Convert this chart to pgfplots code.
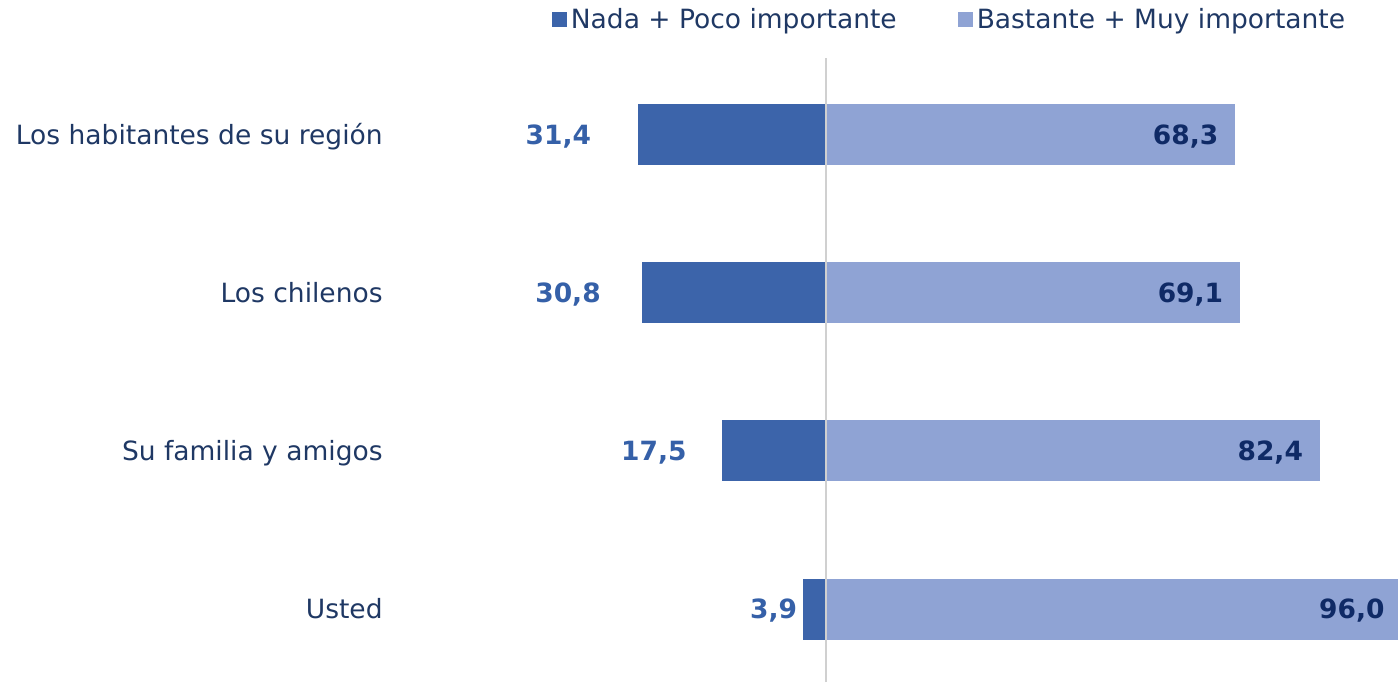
\documentclass[border=0pt]{standalone}
\usepackage{pgfplots}
\usepackage{pgfplotstable}
\pgfplotsset{compat=1.18}
\usepackage{fontspec}
\setmainfont{DejaVu Sans}
\definecolor{darkbar}{HTML}{3C64AA}
\definecolor{lightbar}{HTML}{8FA3D4}
\definecolor{cattext}{HTML}{1F3864}
\definecolor{leftlab}{HTML}{3560A8}
\definecolor{rightlab}{HTML}{0F2A66}
\definecolor{zeroline}{HTML}{D0D0D0}

\pgfplotstableread{
y nada bastante off
3 31.4 68.3 23
2 30.8 69.1 20
1 17.5 82.4 17
0 3.9 96.0 2.5
}\datatable

\newcommand{\labfont}{\fontsize{13.25}{15}\selectfont}

\begin{document}
\begin{tikzpicture}
\path[use as bounding box] (0pt,0pt) rectangle (699pt,341pt);
\begin{scope}
\clip (0pt,0pt) rectangle (699pt,341pt);
\begin{axis}[
  at={(199pt,0pt)}, anchor=south west,
  scale only axis, width=500pt, height=312pt,
  xmin=-71.33, xmax=95.33, ymin=-0.462, ymax=3.487,
  xbar, bar width=31pt,
  axis line style={draw=none},
  xtick=\empty,
  ytick={0,1,2,3},
  yticklabels={Usted, Su familia y amigos, Los chilenos, Los habitantes de su región},
  major tick length=0pt,
  tick style={draw=none},
  yticklabel style={anchor=base east, inner sep=0pt, xshift=-7.5pt, yshift=-4.8pt, text=cattext, font=\labfont},
  clip=false,
  legend columns=2,
  legend style={at={(0.154,1.061)}, anchor=west, draw=none, fill=none, inner sep=0pt,
    font=\labfont, text=cattext,
    nodes={inner sep=1.75pt},
    /tikz/every even column/.append style={column sep=29pt}},
  legend cell align=left,
]
\addplot[fill=darkbar, draw=white, line width=0.5pt, bar shift=0pt,
  point meta=explicit,
  visualization depends on={\thisrow{off} \as \labeloff},
  nodes near coords={\pgfmathprintnumber[fixed,fixed zerofill,precision=1,use comma,assume math mode=true]{\pgfplotspointmeta}},
  nodes near coords style={anchor=base east, inner sep=0pt, xshift={-1pt*\labeloff}, yshift=-4.8pt, text=leftlab, font=\labfont\bfseries},
  legend image code/.code={\fill[darkbar] (-1pt,-3.5pt) rectangle (6pt,3.5pt);}]
  table[x expr=-\thisrow{nada}, y=y, meta=nada]{\datatable};
\addlegendentry{Nada + Poco importante}
\addplot[fill=lightbar, draw=white, line width=0.5pt, bar shift=0pt,
  point meta=explicit,
  nodes near coords={\pgfmathprintnumber[fixed,fixed zerofill,precision=1,use comma,assume math mode=true]{\pgfplotspointmeta}},
  nodes near coords style={anchor=base east, inner sep=0pt, xshift=-8.5pt, yshift=-4.8pt, text=rightlab, font=\labfont\bfseries},
  legend image code/.code={\fill[lightbar] (-1pt,-3.5pt) rectangle (6pt,3.5pt);}]
  table[x=bastante, y=y, meta=bastante]{\datatable};
\addlegendentry{Bastante + Muy importante}
\draw[zeroline, line width=1pt] (axis cs:0,-0.462) -- (axis cs:0,3.487);
\end{axis}
\end{scope}
\end{tikzpicture}
\end{document}
